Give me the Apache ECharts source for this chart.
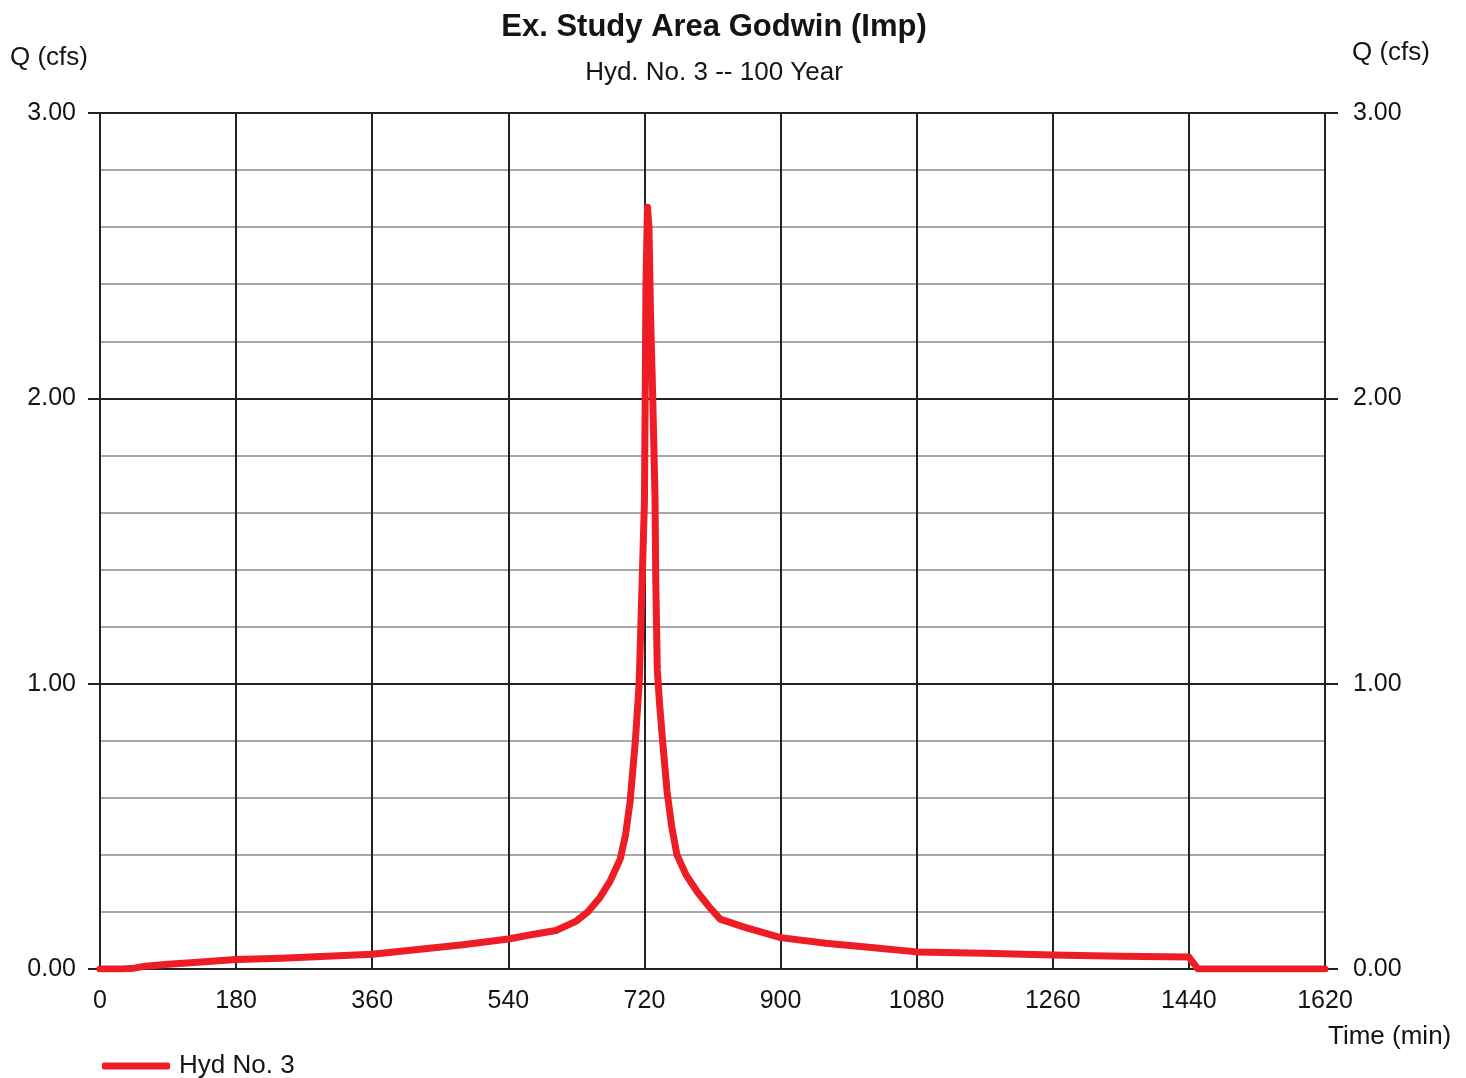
<!DOCTYPE html>
<html>
<head>
<meta charset="utf-8">
<title>Ex. Study Area Godwin (Imp)</title>
<script src="https://cdn.jsdelivr.net/npm/echarts@6/dist/echarts.min.js"></script>
<style>
  html, body { margin: 0; padding: 0; background: #fff; }
  #chart { width: 1466px; height: 1078px; }
</style>
</head>
<body>
<div id="chart"></div>
<script>
// Hydrograph ordinates: time (min) and discharge Q (cfs)
const times = [0, 30, 45, 60, 90, 120, 180, 240, 300, 360, 420, 480, 540, 570, 603, 630,
  645, 661, 675, 688, 695, 701, 708, 713, 717, 720, 721, 722, 724, 726, 728, 731, 734,
  735, 737, 740, 744, 750, 756, 763, 775, 790, 805, 820, 852, 900, 960, 1020, 1080,
  1170, 1260, 1350, 1440, 1452, 1500, 1560, 1620];
const flows = [0, 0, 0.003, 0.01, 0.017, 0.022, 0.033, 0.038, 0.045, 0.052, 0.068, 0.085,
  0.105, 0.12, 0.135, 0.168, 0.2, 0.25, 0.31, 0.386, 0.47, 0.586, 0.8, 1.0, 1.36, 1.64,
  2.0, 2.4, 2.67, 2.6, 2.3, 2.0, 1.65, 1.36, 1.05, 0.93, 0.8, 0.62, 0.5, 0.4, 0.33,
  0.27, 0.22, 0.175, 0.147, 0.11, 0.09, 0.075, 0.06, 0.055, 0.049, 0.045, 0.042, 0,
  0, 0, 0];

const timeTicks = [0, 180, 360, 540, 720, 900, 1080, 1260, 1440, 1620];
const qTicks = [0, 1, 2, 3];

const chartTitle = 'Ex. Study Area Godwin (Imp)';
const chartSubtitle = 'Hyd. No. 3 -- 100 Year';
const seriesName = 'Hyd No. 3';

const FONT = '"Liberation Sans", Arial, sans-serif';
const INK = '#141414';

const chart = echarts.init(document.getElementById('chart'), null, { renderer: 'canvas' });

const fmtQ = v => qTicks.includes(Math.round(v * 1000) / 1000) ? v.toFixed(2) : '';
const fmtT = v => timeTicks.includes(Math.round(v)) ? String(Math.round(v)) : '';

chart.setOption({
  backgroundColor: '#ffffff',
  animation: false,
  title: [
    {
      text: chartTitle, left: 709, textAlign: 'center', top: 7,
      textStyle: { fontFamily: FONT, fontSize: 31, fontWeight: 'bold', color: INK }
    },
    {
      text: chartSubtitle, left: 709, textAlign: 'center', top: 55,
      textStyle: { fontFamily: FONT, fontSize: 26, fontWeight: 'normal', color: INK }
    }
  ],
  legend: {
    left: 97, top: 1048,
    icon: 'roundRect', itemWidth: 68, itemHeight: 7, itemGap: 10,
    data: [seriesName],
    textStyle: { fontFamily: FONT, fontSize: 26, color: INK, padding: [0, 0, 0, 4] }
  },
  grid: { left: 100, right: 141, top: 113, bottom: 109, containLabel: false },
  xAxis: {
    type: 'value', min: 0, max: 1620, interval: 180,
    axisLine: { show: true, lineStyle: { color: '#222', width: 2 } },
    axisTick: { show: false },
    axisLabel: { margin: 20, fontFamily: FONT, fontSize: 25, color: INK, formatter: fmtT },
    splitLine: { show: true, lineStyle: { color: '#222', width: 2 } }
  },
  yAxis: [
    { // minor grid, every 0.2 cfs
      type: 'value', min: 0, max: 3, interval: 0.2, position: 'left',
      axisLine: { show: false }, axisTick: { show: false }, axisLabel: { show: false },
      splitLine: { show: true, lineStyle: { color: '#a8a8a8', width: 2 } }
    },
    { // major grid and left labels
      type: 'value', min: 0, max: 3, interval: 1, position: 'left',
      name: 'Q (cfs)', nameLocation: 'end', nameGap: 42,
      nameTextStyle: { fontFamily: FONT, fontSize: 26, color: INK, align: 'right', padding: [0, 12, 0, 0] },
      axisLine: { show: true, lineStyle: { color: '#222', width: 2 } },
      axisTick: { show: true, length: 12, lineStyle: { color: '#222', width: 2 } },
      axisLabel: { margin: 24, fontFamily: FONT, fontSize: 25, color: INK, formatter: fmtQ },
      splitLine: { show: true, lineStyle: { color: '#222', width: 2 } }
    },
    { // right labels
      type: 'value', min: 0, max: 3, interval: 1, position: 'right',
      name: 'Q (cfs)', nameLocation: 'end', nameGap: 47,
      nameTextStyle: { fontFamily: FONT, fontSize: 26, color: INK, align: 'left', padding: [0, 0, 0, 27] },
      axisLine: { show: true, lineStyle: { color: '#222', width: 2 } },
      axisTick: { show: true, length: 13, lineStyle: { color: '#222', width: 2 } },
      axisLabel: { margin: 28, fontFamily: FONT, fontSize: 25, color: INK, formatter: fmtQ },
      splitLine: { show: false }
    }
  ],
  graphic: [
    {
      type: 'text', left: 1328, top: 1024,
      style: { text: 'Time (min)', fontFamily: FONT, fontSize: 26, fill: INK }
    }
  ],
  series: [
    {
      name: seriesName, type: 'line', yAxisIndex: 1,
      data: times.map((t, i) => [t, flows[i]]),
      symbol: 'none', smooth: false,
      lineStyle: { color: '#ee1c24', width: 7, join: 'round', cap: 'round' },
      itemStyle: { color: '#ee1c24' },
      z: 5
    }
  ]
});
</script>
</body>
</html>
